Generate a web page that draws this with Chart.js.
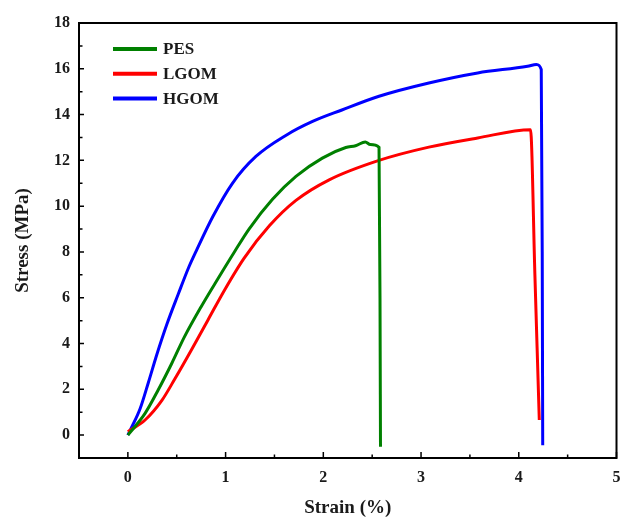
<!DOCTYPE html>
<html>
<head>
<meta charset="utf-8">
<script src="https://cdn.jsdelivr.net/npm/chart.js@4.4.0/dist/chart.umd.min.js"></script>
<style>
  html, body { margin: 0; padding: 0; background: #fff; }
  #wrap { width: 620px; height: 517px; }
</style>
</head>
<body>
<div id="wrap"><canvas id="myChart" width="620" height="517"></canvas></div>
<script>
// values (strain in %, stress in MPa)
const pesStrain = [0, 0.176, 0.31, 0.45, 0.58, 0.75, 0.92, 1.09, 1.24, 1.48, 1.72, 1.99, 2.23, 2.33, 2.43, 2.48, 2.57, 2.58, 2.585];
const pesStress = [0, 0.95, 1.97, 3.14, 4.3, 5.61, 6.82, 8.0, 9.0, 10.3, 11.3, 12.1, 12.56, 12.64, 12.8, 12.69, 12.57, 6.0, -0.51];

const lgomStrain = [0, 0.176, 0.35, 0.48, 0.65, 0.82, 0.99, 1.19, 1.45, 1.72, 2.06, 2.57, 3.08, 3.58, 4.12, 4.165, 4.21];
const lgomStress = [0.15, 0.66, 1.53, 2.45, 3.72, 5.03, 6.34, 7.73, 9.15, 10.25, 11.15, 12.0, 12.58, 12.98, 13.34, 7.0, 0.66];

const hgomStrain = [0, 0.034, 0.125, 0.21, 0.295, 0.4, 0.515, 0.62, 0.7, 0.87, 1.07, 1.31, 1.62, 1.89, 2.19, 2.57, 3.08, 3.58, 4.09, 4.18, 4.23, 4.24, 4.245];
const hgomStress = [0, 0.3, 1.15, 2.3, 3.5, 4.85, 6.15, 7.3, 8.05, 9.55, 11.0, 12.17, 13.1, 13.7, 14.2, 14.8, 15.38, 15.82, 16.11, 16.19, 15.97, 8.0, -0.44];

const seriesNames = ["PES", "LGOM", "HGOM"];
const seriesColors = ["#008000", "#ff0000", "#0000ff"];

const xTicks = [0, 1, 2, 3, 4, 5];
const yTicks = [0, 2, 4, 6, 8, 10, 12, 14, 16, 18];

const toPoints = (xs, ys) => xs.map((x, i) => ({x: x, y: ys[i]}));
const allPoints = [toPoints(pesStrain, pesStress), toPoints(lgomStrain, lgomStress), toPoints(hgomStrain, hgomStress)];

const FONT = "'Liberation Serif', 'Times New Roman', serif";

// box around the plot, inward ticks and the legend inside the plot
const framePlugin = {
  id: "frame",
  afterDraw(chart) {
    const ctx = chart.ctx;
    const a = chart.chartArea;
    const xs = chart.scales.x, ys = chart.scales.y;
    ctx.save();
    ctx.strokeStyle = "#000";
    ctx.lineWidth = 2;
    ctx.strokeRect(a.left, a.top, a.right - a.left, a.bottom - a.top);

    ctx.lineWidth = 1.5;
    ctx.beginPath();
    xs.ticks.forEach(t => {
      const px = xs.getPixelForValue(t.value);
      const len = xTicks.includes(t.value) ? 6 : 3.5;
      ctx.moveTo(px, a.bottom);
      ctx.lineTo(px, a.bottom - len);
    });
    ys.ticks.forEach(t => {
      const py = ys.getPixelForValue(t.value);
      const len = yTicks.includes(t.value) ? 5 : 3.5;
      ctx.moveTo(a.left, py);
      ctx.lineTo(a.left + len, py);
    });
    ctx.stroke();

    // legend
    ctx.font = "bold 17px " + FONT;
    ctx.textBaseline = "middle";
    chart.data.datasets.forEach((ds, i) => {
      const y = 49 + i * 24.7;
      ctx.strokeStyle = ds.borderColor;
      ctx.lineWidth = 4;
      ctx.beginPath();
      ctx.moveTo(113, y);
      ctx.lineTo(157, y);
      ctx.stroke();
      ctx.fillStyle = "#1a1a1a";
      ctx.fillText(ds.label, 163, y + 1);
    });
    ctx.restore();
  }
};

new Chart("myChart", {
  type: "line",
  data: {
    datasets: seriesNames.map((name, i) => ({
      label: name,
      data: allPoints[i],
      borderColor: seriesColors[i],
      backgroundColor: seriesColors[i],
      borderWidth: 3,
      pointRadius: 0,
      cubicInterpolationMode: "monotone",
      fill: false
    }))
  },
  options: {
    responsive: false,
    animation: false,
    layout: { padding: { top: 23, right: 3.5, left: 0, bottom: 0 } },
    plugins: { legend: { display: false }, tooltip: { enabled: false } },
    scales: {
      x: {
        type: "linear",
        min: -0.5, max: 5,
        afterFit: s => { s.height = 59; s.paddingLeft = 0; s.paddingRight = 0; },
        grid: { display: false, drawTicks: false },
        border: { display: false },
        ticks: {
          stepSize: 0.5,
          padding: 10,
          color: "#1a1a1a",
          font: { family: FONT, size: 16, weight: "bold" },
          callback: v => xTicks.includes(v) ? String(v) : ""
        },
        title: {
          display: true, text: "Strain (%)", color: "#1a1a1a",
          font: { family: FONT, size: 19, weight: "bold" },
          padding: { top: 0, bottom: -2 }
        }
      },
      y: {
        min: -1, max: 18,
        afterFit: s => { s.width = 79; },
        grid: { display: false, drawTicks: false },
        border: { display: false },
        ticks: {
          stepSize: 1,
          padding: 9,
          color: "#1a1a1a",
          font: { family: FONT, size: 16, weight: "bold" },
          callback: v => yTicks.includes(v) ? String(v) : ""
        },
        title: {
          display: true, text: "Stress (MPa)", color: "#1a1a1a",
          font: { family: FONT, size: 19, weight: "bold" },
          padding: { top: 12, bottom: 0 }
        }
      }
    }
  },
  plugins: [framePlugin]
});
</script>
</body>
</html>
